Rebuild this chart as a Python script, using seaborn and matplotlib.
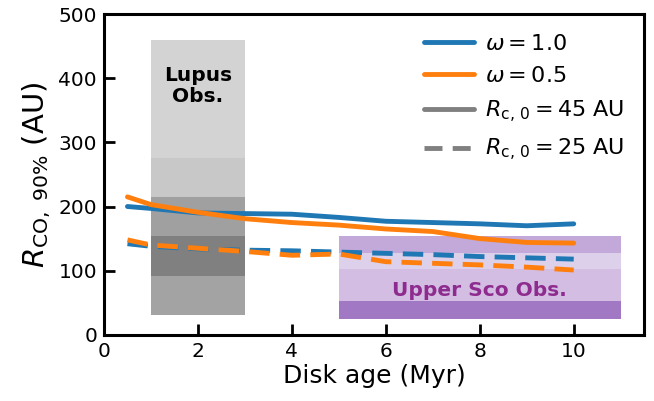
import numpy as np
import pandas as pd
import matplotlib
matplotlib.use("Agg")
import matplotlib.pyplot as plt
from matplotlib.lines import Line2D
import seaborn as sns

# model curves
age = [0.5, 1, 2, 3, 4, 5, 6, 7, 8, 9, 10]
r_w10_rc45 = [200, 197, 190, 189, 188, 183, 177, 175, 173, 170, 173]
r_w05_rc45 = [215, 203, 191, 181, 175, 171, 165, 161, 150, 144, 143]
r_w10_rc25 = [142, 138, 134, 132, 131, 129, 127, 125, 122, 120, 118]
r_w05_rc25 = [148, 140, 135, 130, 124, 126, 114, 111.5, 109, 105.5, 101]

# observed ranges (band edges, bottom -> top)
lupus_age = [1, 3]
lupus_edges = [31, 92, 154, 215, 276, 460]
lupus_colors = ["#a3a3a3", "#808080", "#a0a0a0", "#c8c8c8", "#d3d3d3"]
usco_age = [5, 11]
usco_edges = [25, 52, 77, 102, 128, 154]
usco_colors = ["#a078c4", "#d3bde3", "#d3bde3", "#ddd0ea", "#c2a9d9"]

df = pd.DataFrame({
    "age": age * 4,
    "R": r_w10_rc45 + r_w05_rc45 + r_w10_rc25 + r_w05_rc25,
    "omega": ["1.0"] * 11 + ["0.5"] * 11 + ["1.0"] * 11 + ["0.5"] * 11,
    "Rc": ["45"] * 22 + ["25"] * 22,
})

sns.set_style("ticks")
plt.rcParams["font.family"] = ["DejaVu Sans"]
plt.rcParams["mathtext.fontset"] = "dejavusans"
plt.rcParams["text.color"] = "black"
plt.rcParams["axes.labelcolor"] = "black"

fig = plt.figure(figsize=(6.54, 4.01), dpi=100)
ax = fig.add_axes([0.159, 0.165, 0.826, 0.8])

for lo, hi, c in zip(lupus_edges[:-1], lupus_edges[1:], lupus_colors):
    ax.fill_between(lupus_age, lo, hi, color=c, lw=0, zorder=1)
for lo, hi, c in zip(usco_edges[:-1], usco_edges[1:], usco_colors):
    ax.fill_between(usco_age, lo, hi, color=c, lw=0, zorder=1)

palette = {"1.0": "#1f77b4", "0.5": "#ff7f0e"}
dash = (4.2, 2.1)
sns.lineplot(data=df, x="age", y="R", hue="omega", style="Rc",
             palette=palette, dashes={"45": "", "25": dash},
             hue_order=["1.0", "0.5"], style_order=["45", "25"],
             lw=3.5, legend=False, ax=ax, zorder=3)

ax.text(2, 388, "Lupus\nObs.", ha="center", va="center", fontsize=14.5,
        fontweight="bold", color="black", zorder=4, linespacing=1.1)
ax.text(8, 69, "Upper Sco Obs.", ha="center", va="center", fontsize=14.5,
        fontweight="bold", color="#8e2b8e", zorder=4)

ax.set_xlim(0, 11.5)
ax.set_ylim(0, 500)
ax.set_xticks([0, 2, 4, 6, 8, 10])
ax.set_yticks([0, 100, 200, 300, 400, 500])
ax.tick_params(direction="in", length=8, width=2, labelsize=14.5,
               color="black", labelcolor="black", pad=5)
for sp in ax.spines.values():
    sp.set_linewidth(2.2)
    sp.set_color("black")
    sp.set_visible(True)
ax.set_xlabel("Disk age (Myr)", fontsize=18, labelpad=2)
ax.set_ylabel(r"$R_{\rm CO,\ 90\%}$ (AU)", fontsize=21, labelpad=4)

handles = [
    Line2D([], [], color="#1f77b4", lw=3.5),
    Line2D([], [], color="#ff7f0e", lw=3.5),
    Line2D([], [], color="gray", lw=3.5),
    Line2D([], [], color="gray", lw=3.5, dashes=(3.7, 2.1)),
]
labels = [r"$\omega = 1.0$", r"$\omega = 0.5$",
          r"$R_{\rm c,\,0} = 45$ AU", r"$R_{\rm c,\,0} = 25$ AU"]
ax.legend(handles, labels, loc="upper right", frameon=False, fontsize=16,
          handlelength=2.25, handletextpad=0.5, borderaxespad=0.5,
          labelspacing=0.55)

fig.savefig("out.png", dpi=100)
